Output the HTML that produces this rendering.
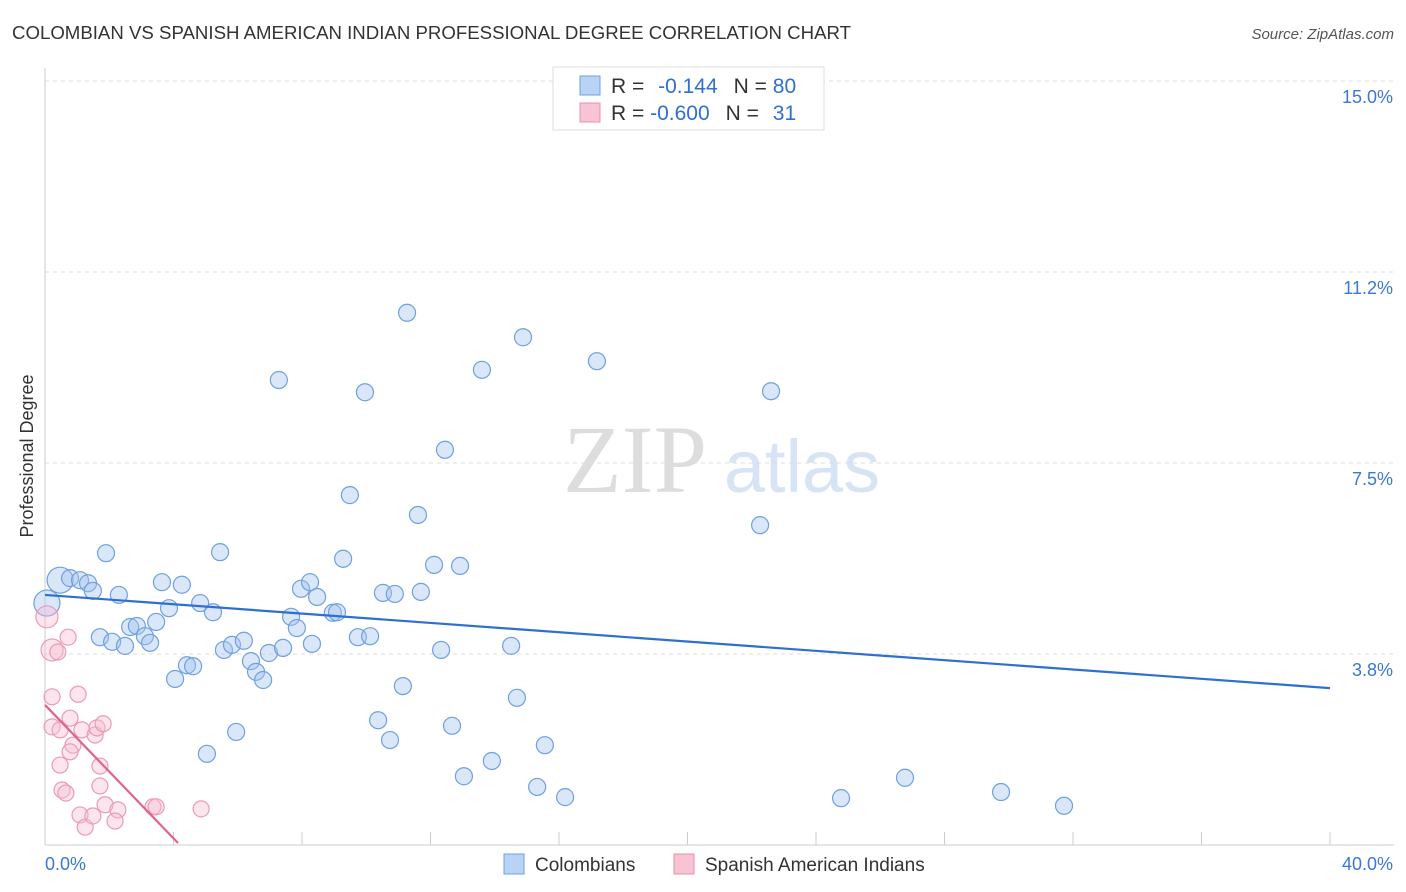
<!DOCTYPE html>
<html><head><meta charset="utf-8"><style>
body{margin:0;background:#fff;font-family:"Liberation Sans",sans-serif;}
svg{display:block}
</style></head><body>
<svg id="chart" width="1406" height="892">
<text x="12" y="39" font-size="18" fill="#333" textLength="839" lengthAdjust="spacingAndGlyphs">COLOMBIAN VS SPANISH AMERICAN INDIAN PROFESSIONAL DEGREE CORRELATION CHART</text>
<text x="1394" y="39" font-size="15" fill="#555" font-style="italic" text-anchor="end">Source: ZipAtlas.com</text>
<text x="635" y="492" font-size="96" fill="#ddd" font-family="Liberation Serif" text-anchor="middle">ZIP</text>
<text x="802" y="492" font-size="74" fill="#d6e4f5" text-anchor="middle">atlas</text>
<text transform="translate(33,456) rotate(-90)" font-size="18" fill="#333" text-anchor="middle">Professional Degree</text>
<g id="grid"></g><g id="pts"></g><g id="trend"></g>
<g>
<rect x="553" y="67" width="271" height="63" fill="#fff" stroke="#ddd"/>
<rect x="580" y="76" width="20" height="19" fill="#b8d3f4" stroke="#6fa0e0"/>
<rect x="580" y="103" width="20" height="19" fill="#f8c4d4" stroke="#e890ad"/>
<text x="611" y="93" font-size="21" fill="#333">R = <tspan fill="#2f6fd1" dx="8">-0.144</tspan><tspan dx="16" fill="#333">N = </tspan><tspan fill="#2f6fd1">80</tspan></text>
<text x="611" y="120" font-size="21" fill="#333">R = <tspan fill="#2f6fd1">-0.600</tspan><tspan dx="16" fill="#333">N = </tspan><tspan fill="#2f6fd1" dx="8">31</tspan></text>
</g>
<g>
<rect x="504" y="854" width="20" height="20" fill="#b8d3f4" stroke="#6fa0e0"/>
<text x="535" y="871" font-size="19" fill="#333">Colombians</text>
<rect x="674" y="854" width="20" height="20" fill="#f8c4d4" stroke="#e890ad"/>
<text x="705" y="871" font-size="19" fill="#333">Spanish American Indians</text>
</g>
</svg>
<script>
const yTicks=[3.75,7.5,11.25,15];
const yTickLabels=["3.8%","7.5%","11.2%","15.0%"];
const xTicks=[0,4,8,12,16,20,24,28,32,36,40];
const blueX=[.47,.06,.78,1.09,1.34,1.49,1.90,2.30,1.71,2.09,2.49,2.65,2.86,3.11,3.27,3.46,3.64,3.86,4.05,4.26,4.42,4.61,4.83,5.04,5.23,5.45,5.57,5.82,5.95,6.19,6.41,6.57,6.79,6.97,7.28,7.41,7.66,7.84,7.97,8.25,8.31,8.47,8.96,9.09,9.28,9.49,9.74,9.96,10.12,10.37,10.52,10.74,10.89,11.14,11.27,11.61,11.70,12.11,12.33,12.45,12.67,12.92,13.04,13.60,13.91,14.51,14.69,14.88,15.32,15.56,16.19,17.18,22.26,22.60,24.78,26.77,29.76,31.72];
const blueY=[5.20,4.75,5.24,5.20,5.14,4.99,5.73,4.91,4.08,3.99,3.91,4.28,4.30,4.10,3.97,4.38,5.16,4.65,3.26,5.11,3.53,3.51,4.75,1.79,4.57,5.75,3.83,3.93,2.22,4.01,3.61,3.40,3.24,3.77,9.13,3.87,4.48,4.26,5.03,5.16,3.95,4.87,4.56,4.57,5.62,6.87,4.08,8.89,4.10,2.45,4.95,2.06,4.93,3.12,10.45,6.48,4.97,5.50,3.83,7.76,2.34,5.48,1.35,9.33,1.65,3.91,2.89,9.97,1.14,1.96,0.94,9.50,6.28,8.91,0.92,1.32,1.04,0.77];
const pinkX=[.06,.22,.40,.72,.22,1.03,.22,.47,.78,.87,.78,1.15,1.56,1.62,1.81,.47,1.71,.53,.65,1.71,1.09,1.25,1.49,1.87,2.27,2.18,3.36,3.46,4.86];
const pinkY=[4.48,3.83,3.79,4.08,2.91,2.96,2.32,2.26,2.49,1.96,1.83,2.26,2.16,2.30,2.38,1.57,1.55,1.08,1.02,1.16,0.59,0.35,0.57,0.79,0.69,0.47,0.75,0.75,0.71];
const blueTrend=[[0,4.91],[40,3.08]];
const pinkTrend=[[0,2.75],[4.14,0.04]];
const X=v=>45+v*32.125, Y=v=>845-v*50.93;
const NS="http://www.w3.org/2000/svg";
function mk(p,t,a){const e=document.createElementNS(NS,t);for(const k in a)e.setAttribute(k,a[k]);p.appendChild(e);return e;}
const g=document.getElementById('grid');
yTicks.forEach((v,i)=>{
 const l=mk(g,'line',{x1:45,x2:1394,y1:Y(v),y2:Y(v),stroke:'#ddd','stroke-dasharray':'4,4'});
 
 
 const t=mk(g,'text',{x:1393,y:Y(v)+22,'font-size':18,fill:'#3a78d4','text-anchor':'end'});
 t.textContent=yTickLabels[i];
 
 
});
mk(g,'line',{x1:45,x2:45,y1:68,y2:845,stroke:'#ccc'});
mk(g,'line',{x1:45,x2:1394,y1:845,y2:845,stroke:'#ccc'});
xTicks.forEach(v=>{const l=mk(g,'line',{x1:X(v),x2:X(v),y1:845,y2:832,stroke:'#ccc'});
 
 });
let t0=mk(g,'text',{x:45,y:870,'font-size':18,fill:'#3a78d4'});t0.textContent='0.0%';


let t1=mk(g,'text',{x:1393,y:870,'font-size':18,fill:'#3a78d4','text-anchor':'end'});t1.textContent='40.0%';


const p=document.getElementById('pts');
blueX.forEach((v,i)=>{const c=mk(p,'circle',{cx:X(v),cy:Y(blueY[i]),r:i<2?13:8.5,fill:'rgba(160,195,240,0.4)',stroke:'#6fa0e0','stroke-width':1.2});
 
 });
pinkX.forEach((v,i)=>{const c=mk(p,'circle',{cx:X(v),cy:Y(pinkY[i]),r:i<2?11:8,fill:'rgba(248,190,210,0.4)',stroke:'#ec9ab6','stroke-width':1.2});
 
 });
const tr=document.getElementById('trend');
let b=mk(tr,'line',{x1:X(blueTrend[0][0]),y1:Y(blueTrend[0][1]),x2:X(blueTrend[1][0]),y2:Y(blueTrend[1][1]),stroke:'#2f6fd1','stroke-width':2.2});


let pk=mk(tr,'line',{x1:X(pinkTrend[0][0]),y1:Y(pinkTrend[0][1]),x2:X(pinkTrend[1][0]),y2:Y(pinkTrend[1][1]),stroke:'#e0628e','stroke-width':2.2});


</script>
</body></html>
